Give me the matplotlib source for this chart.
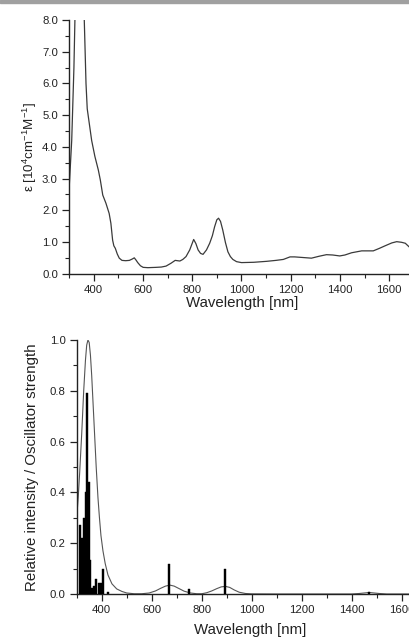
import matplotlib
matplotlib.use("Agg")
import matplotlib.pyplot as plt
from matplotlib.patches import Rectangle
from matplotlib.ticker import MultipleLocator, FormatStrFormatter

plt.rcParams['font.family'] = ['Liberation Sans', 'DejaVu Sans']
plt.rcParams['mathtext.default'] = 'regular'

# ---- Top panel: absorption spectrum ----
abs_wl = [300, 311, 320, 324, 330, 338, 345, 352, 358, 362, 369, 374, 383, 392, 405,
          419, 427, 437, 450, 463, 470, 477, 482, 488, 496, 504, 515, 530, 545, 556,
          565, 572, 579, 590, 601, 620, 653, 675, 694, 714, 731, 740, 750, 762, 775,
          790, 806, 815, 824, 834, 844, 858, 871, 882, 891, 900, 907, 915, 924, 935,
          945, 955, 965, 980, 1000, 1050, 1102, 1140, 1170, 1197, 1216, 1250, 1284,
          1315, 1345, 1370, 1399, 1420, 1447, 1488, 1535, 1560, 1583, 1610, 1630,
          1650, 1665, 1680]
abs_eps = [2.6, 4.2, 6.5, 8.0, 9.6, 11.0, 11.3, 10.5, 9.0, 8.0, 6.0, 5.2, 4.7, 4.2, 3.7,
           3.27, 2.96, 2.48, 2.22, 1.9, 1.59, 1.06, 0.88, 0.8, 0.62, 0.49, 0.42, 0.41, 0.42, 0.46,
           0.5, 0.43, 0.35, 0.25, 0.2, 0.19, 0.2, 0.21, 0.24, 0.33, 0.42, 0.41, 0.4, 0.45, 0.54,
           0.75, 1.08, 0.95, 0.75, 0.64, 0.61, 0.75, 0.96, 1.2, 1.48, 1.7, 1.75, 1.65, 1.38, 0.98,
           0.69, 0.54, 0.45, 0.38, 0.35, 0.36, 0.39, 0.42, 0.45, 0.53, 0.53, 0.51, 0.49,
           0.55, 0.6, 0.59, 0.56, 0.59, 0.66, 0.72, 0.72, 0.8, 0.88, 0.97, 1.01,
           0.99, 0.96, 0.85]

# ---- Bottom panel: calculated transitions ----
osc_wl = [315, 323, 331, 338, 343, 348, 353, 361, 371, 379, 389, 397, 407, 427,
          671, 751, 894, 1470]
osc_f = [0.27, 0.22, 0.30, 0.40, 0.79, 0.44, 0.135, 0.025, 0.03, 0.06, 0.045, 0.045,
         0.10, 0.008, 0.12, 0.02, 0.10, 0.008]

env_wl = [300, 306, 312, 320, 328, 335, 340, 345, 350, 355, 360, 366, 372, 378, 385,
          391, 397, 405, 414, 425, 441, 460, 481, 500, 530, 560, 590, 615, 635, 655,
          673, 690, 710, 730, 755, 780, 800, 820, 840, 860, 878, 895, 912, 930, 950,
          975, 1000, 1100, 1400, 1430, 1450, 1470, 1490, 1510, 1540, 1700]
env_y = [0.30, 0.38, 0.48, 0.63, 0.80, 0.92, 0.98, 1.0, 0.99, 0.94, 0.86, 0.74, 0.62,
         0.50, 0.38, 0.30, 0.23, 0.17, 0.12, 0.075, 0.04, 0.02, 0.01, 0.004, 0.001, 0.001,
         0.004, 0.012, 0.022, 0.031, 0.035, 0.031, 0.021, 0.011, 0.004, 0.001, 0.001, 0.005,
         0.012, 0.021, 0.028, 0.030, 0.026, 0.016, 0.007, 0.002, 0.0005, 0.0, 0.0, 0.002,
         0.004, 0.006, 0.004, 0.002, 0.0, 0.0]

W, H = 409, 638
fig = plt.figure(figsize=(W / 100, H / 100), dpi=100)
fig.patches.append(Rectangle((0, 1 - 2.5 / H), 1, 2.5 / H, transform=fig.transFigure,
                             color='#a0a0a0', zorder=0))

def px_axes(left, right, top, bottom):
    return fig.add_axes([left / W, 1 - bottom / H, (right - left) / W, (bottom - top) / H])

def style(ax):
    for s in ('top', 'right'):
        ax.spines[s].set_visible(False)
    for s in ('left', 'bottom'):
        ax.spines[s].set_linewidth(1.0)
        ax.spines[s].set_color('#222222')
    ax.tick_params(which='major', direction='out', length=5, width=0.9, labelsize=8.2,
                   colors='#222222', pad=3)
    ax.tick_params(which='minor', direction='out', length=3, width=0.8, colors='#222222')
    ax.xaxis.set_major_locator(MultipleLocator(200))
    ax.xaxis.set_minor_locator(MultipleLocator(100))

# Top
ax1 = px_axes(69, 409, 20, 273.7)
ax1.plot(abs_wl, abs_eps, color='#3a3a3a', lw=0.9)
ax1.set_xlim(300, 1680)
ax1.set_ylim(0, 8)
style(ax1)
ax1.yaxis.set_major_locator(MultipleLocator(1))
ax1.yaxis.set_minor_locator(MultipleLocator(0.5))
ax1.yaxis.set_major_formatter(FormatStrFormatter('%.1f'))
ax1.set_xticks([400, 600, 800, 1000, 1200, 1400, 1600])
ax1.set_xlabel('Wavelength [nm]', fontsize=10.8, color='#222222')
ax1.set_ylabel(r'ε [10$^{4}$cm$^{-1}$M$^{-1}$]', fontsize=9.6, color='#222222')
ax1.xaxis.set_label_coords(0.509, -0.088)
ax1.yaxis.set_label_coords(-0.088, 0.5)

# Bottom
ax2 = px_axes(76.7, 76.7 + 1400 / 4, 340, 594)
ax2.bar(osc_wl, osc_f, width=8, color='black', edgecolor='black', linewidth=0.3, zorder=3)
ax2.plot(env_wl, env_y, color='#555555', lw=0.8, zorder=2)
ax2.set_xlim(300, 1700)
ax2.set_ylim(0, 1.0)
style(ax2)
ax2.yaxis.set_major_locator(MultipleLocator(0.2))
ax2.yaxis.set_minor_locator(MultipleLocator(0.1))
ax2.yaxis.set_major_formatter(FormatStrFormatter('%.1f'))
ax2.set_xticks([400, 600, 800, 1000, 1200, 1400, 1600])
ax2.set_xlabel('Wavelength [nm]', fontsize=10.8, color='#222222')
ax2.set_ylabel('Relative intensity / Oscillator strength', fontsize=10.8, color='#222222')
ax2.xaxis.set_label_coords(0.495, -0.115)
ax2.yaxis.set_label_coords(-0.108, 0.5)

fig.savefig('out.png', dpi=100)
